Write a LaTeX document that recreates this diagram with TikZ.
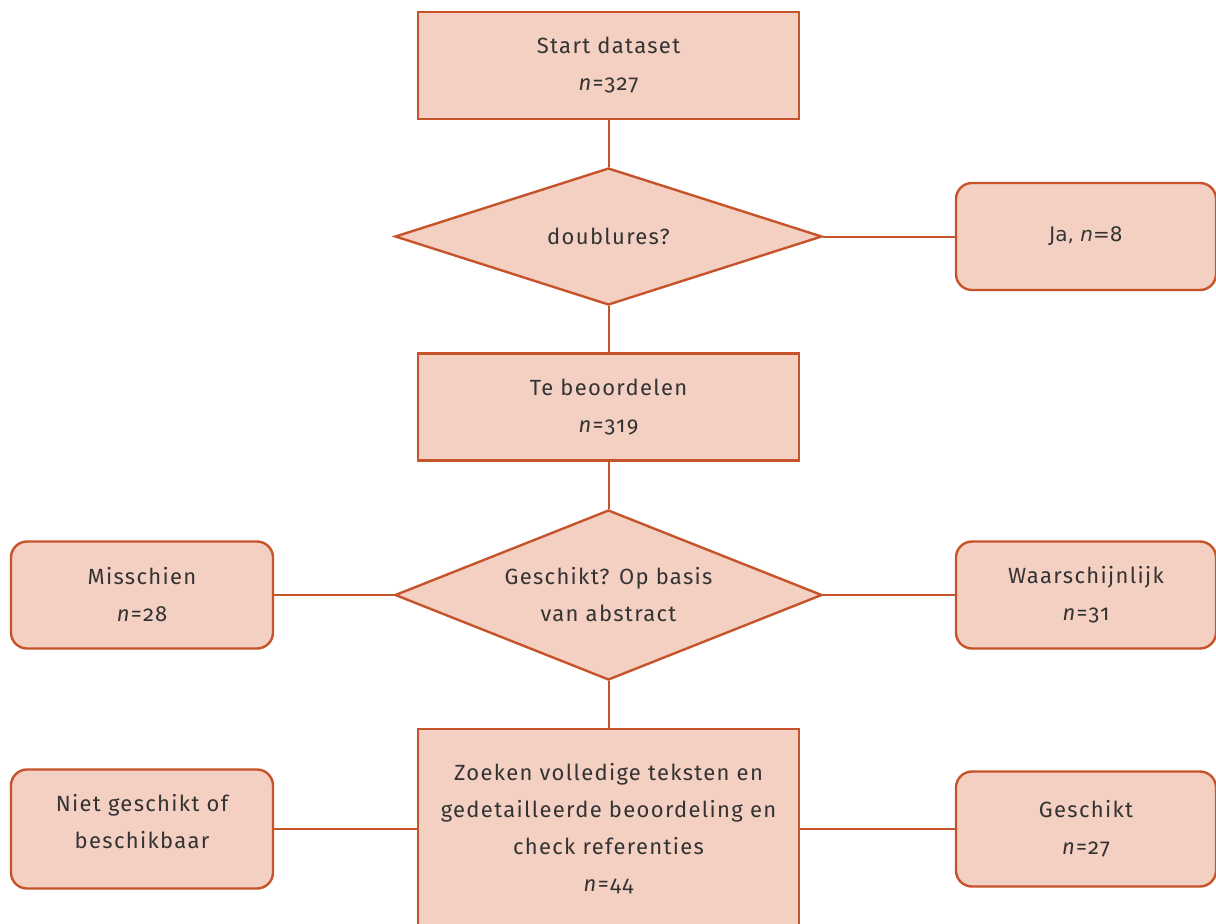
\documentclass[tikz,border=0pt]{standalone}
\usepackage{fontspec}
\setmainfont{Fira Sans}[Numbers=OldStyle, LetterSpace=6]
\newfontfamily\djv{DejaVu Sans}
\usetikzlibrary{shapes.geometric}
\definecolor{boxfill}{HTML}{F4D0C2}
\definecolor{boxline}{HTML}{C6532A}
\definecolor{txt}{HTML}{333333}
\tikzset{
  shp/.style={draw=boxline, fill=boxfill, line width=2.4pt, text=txt, align=center,
    font=\fontsize{22}{37}\selectfont, inner sep=0pt},
  rectbox/.style={shp, rectangle, minimum width=381pt, minimum height=107pt},
  rbox/.style={shp, rectangle, rounded corners=16pt, minimum width=260pt, minimum height=107pt},
  dia/.style={shp, diamond, minimum width=427pt, minimum height=137pt, aspect=3.1},
  conn/.style={draw=boxline, line width=2pt},
  lbl/.style={text=txt, align=center, font=\fontsize{22}{37}\selectfont, inner sep=0pt}
}
\begin{document}
\begin{tikzpicture}[x=1pt,y=-1pt]
\useasboundingbox (0,0) rectangle (1216,924);
\clip (0,0) rectangle (1216,924);
\node[rectbox] (start) at (608.5,65.5) {Start dataset\\\textit{n}=327};
\node[dia] (d1) at (608.5,236.5) {doublures?};
\node[rbox, minimum width=260pt] (ja) at (1086,236.5) {\djv\fontsize{20}{30}\selectfont Ja, \textit{n}=8};
\node[rectbox] (te) at (608.5,407) {Te beoordelen\\\textit{n}=319};
\node[dia, minimum height=170pt, aspect=2.5] (d2) at (608.5,595) {Geschikt? Op basis\\van abstract};
\node[rbox, minimum width=262pt] (mis) at (142,595) {Misschien\\\textit{n}=28};
\node[rbox, minimum width=260pt] (waar) at (1086,595) {Waarschijnlijk\\\textit{n}=31};
\node[rectbox, minimum height=200pt] (zoek) at (608.5,829) {Zoeken volledige teksten en\\gedetailleerde beoordeling en\\check referenties\\\textit{n}=44};
\node[rbox, minimum width=262pt, minimum height=119pt] (niet) at (142,829) {};
\node[lbl] (nietlbl) at (142,822) {Niet geschikt of\\beschikbaar};
\node[rbox, minimum width=260pt, minimum height=115pt] (ges) at (1086,829) {Geschikt\\\textit{n}=27};
\draw[conn] (start) -- (d1);
\draw[conn] (d1) -- (ja);
\draw[conn] (d1) -- (te);
\draw[conn] (te) -- (d2);
\draw[conn] (d2) -- (mis);
\draw[conn] (d2) -- (waar);
\draw[conn] (d2) -- (zoek);
\draw[conn] (zoek) -- (niet);
\draw[conn] (zoek) -- (ges);
\end{tikzpicture}
\end{document}
